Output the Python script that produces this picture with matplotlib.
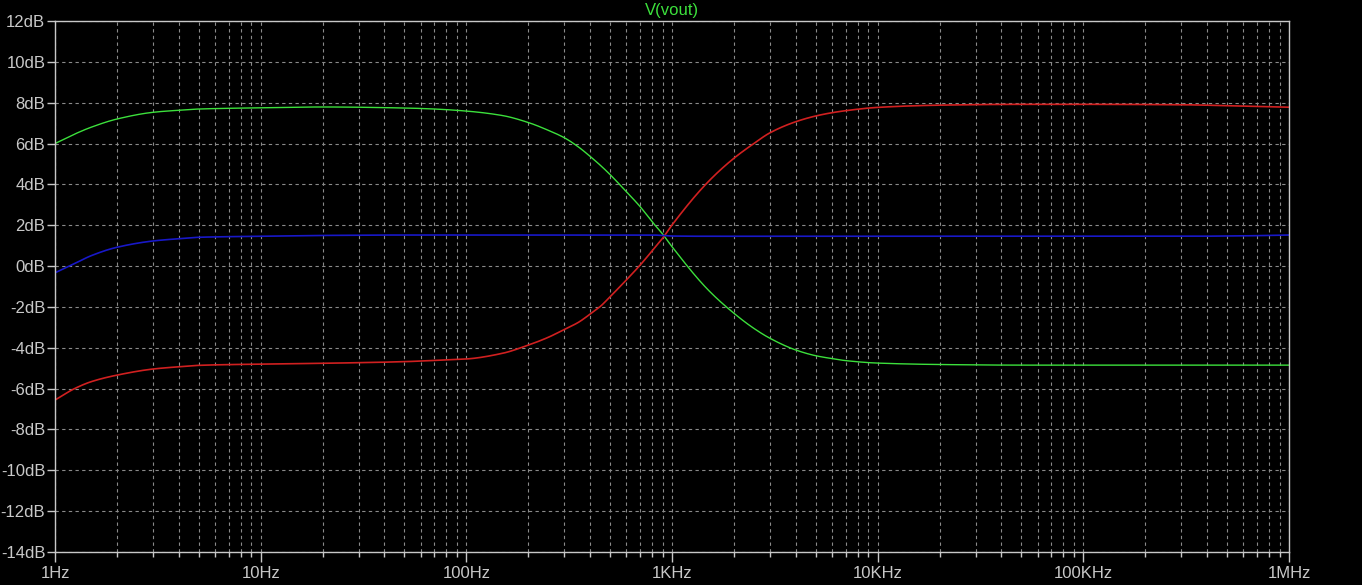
import matplotlib
matplotlib.use("Agg")
import matplotlib.pyplot as plt
import numpy as np
from matplotlib.ticker import FixedLocator, NullFormatter, LogLocator

# ---- data ----
freq = [1, 1.25, 1.5, 2, 3, 4, 5, 10, 20, 50, 70, 100, 150, 200, 250, 300, 350, 400,
        450, 500, 600, 700, 800, 900, 1000, 1500, 2000, 2500, 3000, 4000, 5000,
        6000, 7000, 10000, 20000, 50000, 100000, 300000, 600000, 1000000]
green_db = [6.0, 6.47, 6.8, 7.2, 7.53, 7.63, 7.69, 7.75, 7.79, 7.74, 7.69, 7.59,
            7.37, 7.03, 6.65, 6.28, 5.84, 5.37, 4.92, 4.48, 3.64, 2.91, 2.17, 1.57,
            0.95, -1.17, -2.31, -3.05, -3.54, -4.11, -4.39, -4.53, -4.63, -4.75,
            -4.82, -4.85, -4.85, -4.85, -4.85, -4.85]
red_db = [-6.56, -5.99, -5.66, -5.34, -5.04, -4.93, -4.86, -4.8, -4.76, -4.68,
          -4.62, -4.55, -4.27, -3.87, -3.49, -3.1, -2.76, -2.35, -1.96, -1.5,
          -0.68, 0.05, 0.74, 1.36, 2.01, 4.13, 5.28, 6.0, 6.53, 7.07, 7.35, 7.51,
          7.61, 7.77, 7.88, 7.92, 7.92, 7.9, 7.83, 7.78]
blue_db = [-0.33, 0.13, 0.51, 0.92, 1.23, 1.34, 1.41, 1.46, 1.5, 1.52, 1.52, 1.52,
           1.52, 1.52, 1.52, 1.52, 1.52, 1.52, 1.52, 1.52, 1.52, 1.52, 1.52, 1.5,
           1.47, 1.46, 1.46, 1.46, 1.46, 1.46, 1.46, 1.46, 1.46, 1.46, 1.46, 1.46,
           1.46, 1.46, 1.48, 1.52]
x_ticks = [1, 10, 100, 1000, 10000, 100000, 1000000]
x_labels = ["1Hz", "10Hz", "100Hz", "1KHz", "10KHz", "100KHz", "1MHz"]
y_ticks = list(range(-14, 13, 2))
y_labels = [f"{v}dB" for v in y_ticks]
title = "V(vout)"

# ---- figure ----
plt.rcParams['font.family'] = ['Liberation Sans', 'DejaVu Sans']
fig = plt.figure(figsize=(13.62, 5.85), dpi=100, facecolor='black')
ax = fig.add_axes([55/1362, 1-552/585, (1289-55)/1362, (552-21)/585])
ax.set_facecolor('black')

lf = np.log10(freq)
fine = np.linspace(lf[0], lf[-1], 1500)

def smooth(vals):
    # monotone cubic (PCHIP) interpolation in log-frequency
    x = np.asarray(lf); y = np.asarray(vals, dtype=float)
    h = np.diff(x); d = np.diff(y) / h
    m = np.zeros_like(y)
    m[0] = d[0]; m[-1] = d[-1]
    for i in range(1, len(y) - 1):
        if d[i-1] * d[i] <= 0:
            m[i] = 0
        else:
            w1 = 2*h[i] + h[i-1]; w2 = h[i] + 2*h[i-1]
            m[i] = (w1 + w2) / (w1/d[i-1] + w2/d[i])
    idx = np.clip(np.searchsorted(x, fine) - 1, 0, len(x) - 2)
    t = (fine - x[idx]) / h[idx]
    h00 = 2*t**3 - 3*t**2 + 1; h10 = t**3 - 2*t**2 + t
    h01 = -2*t**3 + 3*t**2; h11 = t**3 - t**2
    return h00*y[idx] + h10*h[idx]*m[idx] + h01*y[idx+1] + h11*h[idx]*m[idx+1]

ff = 10**fine
ax.plot(ff, smooth(green_db), color='#3ce03c', lw=1.0)
ax.plot(ff, smooth(red_db), color='#d02020', lw=1.2)
ax.plot(ff, smooth(blue_db), color='#1818c8', lw=1.2)

ax.set_xscale('log')
ax.set_xlim(1, 1e6)
ax.set_ylim(-14, 12)
ax.xaxis.set_major_locator(FixedLocator(x_ticks))
ax.set_xticklabels(x_labels)
ax.xaxis.set_minor_locator(LogLocator(base=10, subs=np.arange(2, 10), numticks=100))
ax.xaxis.set_minor_formatter(NullFormatter())
ax.set_yticks(y_ticks)
ax.set_yticklabels(y_labels)

grid_kw = dict(color='#8a8a8a', linestyle=(0, (3, 3)), linewidth=0.8)
ax.grid(True, which='major', axis='both', **grid_kw)
ax.grid(True, which='minor', axis='x', **grid_kw)

for s in ax.spines.values():
    s.set_color('#c8c8c8')
    s.set_linewidth(1.0)

ax.tick_params(axis='x', which='major', direction='out', length=7, width=1,
               color='#c8c8c8', labelcolor='#c8c8c8', labelsize=12, pad=3)
ax.tick_params(axis='x', which='minor', direction='out', length=3.5, width=1,
               color='#c8c8c8')
ax.tick_params(axis='y', which='major', direction='out', length=6, width=1,
               color='#c8c8c8', labelcolor='#c8c8c8', labelsize=12, pad=1)
ax.tick_params(axis='y', which='minor', left=False)

fig.text(672/1362, 1-11/585, title, color='#3ce03c', fontsize=12,
         ha='center', va='center')

fig.savefig('out.png', dpi=100, facecolor='black')
